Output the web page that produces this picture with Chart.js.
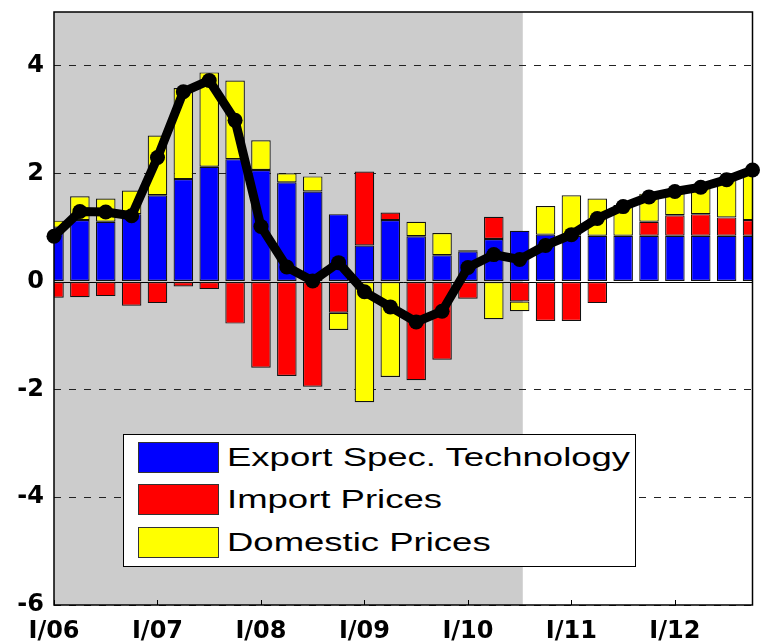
<!DOCTYPE html>
<html>
<head>
<meta charset="utf-8">
<script src="https://cdn.jsdelivr.net/npm/chart.js@4.4.1/dist/chart.umd.min.js"></script>
<style>
  html, body { margin: 0; padding: 0; background: #fff; }
  #wrap { position: relative; width: 760px; height: 644px; }
  #legend {
    position: absolute; left: 123px; top: 434px; width: 513px; height: 133px;
    box-sizing: border-box; border: 1.5px solid #000; background: #fff;
  }
  .row { position: absolute; left: 13.5px; height: 31px; display: flex; align-items: center; }
  .sw { width: 81px; height: 31px; box-sizing: border-box; border: 1px solid #333; }
  .txt {
    margin-left: 8px; font: 25px "Liberation Sans", Arial, sans-serif; color: #000;
    transform: scaleX(1.46); transform-origin: left center; white-space: nowrap;
  }
</style>
</head>
<body>
<div id="wrap">
  <canvas id="chart" width="760" height="644"></canvas>
  <div id="legend"></div>
</div>
<script>
// Quarterly decomposition, I/06 .. IV/12
const QUARTERS = [
  'I/06', 'II/06', 'III/06', 'IV/06', 'I/07', 'II/07', 'III/07', 'IV/07',
  'I/08', 'II/08', 'III/08', 'IV/08', 'I/09', 'II/09', 'III/09', 'IV/09',
  'I/10', 'II/10', 'III/10', 'IV/10', 'I/11', 'II/11', 'III/11', 'IV/11',
  'I/12', 'II/12', 'III/12', 'IV/12'
];
const EXPORT_TECH = [
  1.00, 1.14, 1.11, 1.25, 1.60, 1.90, 2.13, 2.27,
  2.07, 1.84, 1.67, 1.25, 0.67, 1.14, 0.84, 0.49,
  0.56, 0.79, 0.94, 0.87, 0.85, 0.85, 0.85, 0.85,
  0.85, 0.85, 0.85, 0.85
];
const IMPORT_PRICES = [
  -0.30, -0.29, -0.27, -0.45, -0.40, -0.09, -0.14, -0.78,
  -1.60, -1.75, -1.95, -0.58, 1.37, 0.14, -1.83, -1.45,
  -0.32, 0.41, -0.37, -0.73, -0.73, -0.40, -0.03, 0.26,
  0.38, 0.40, 0.34, 0.29
];
const DOMESTIC_PRICES = [
  0.13, 0.44, 0.43, 0.44, 1.11, 1.69, 1.75, 1.46,
  0.55, 0.17, 0.28, -0.32, -2.24, -1.77, 0.27, 0.41,
  0.02, -0.70, -0.18, 0.53, 0.75, 0.69, 0.57, 0.52,
  0.45, 0.53, 0.71, 0.86
];
const TOTAL = [
  0.84, 1.30, 1.29, 1.22, 2.30, 3.52, 3.73, 2.99,
  1.02, 0.27, 0.01, 0.35, -0.19, -0.47, -0.75, -0.55,
  0.26, 0.50, 0.41, 0.67, 0.87, 1.17, 1.39, 1.57,
  1.67, 1.75, 1.89, 2.07
];
const Y_TICKS = [-6, -4, -2, 0, 2, 4];
const SHADE_END = 18.12;   // end of the shaded (history) period, in quarters

const SERIES = [
  { label: 'Export Spec. Technology', data: EXPORT_TECH, color: '#0000ff' },
  { label: 'Import Prices', data: IMPORT_PRICES, color: '#ff0000' },
  { label: 'Domestic Prices', data: DOMESTIC_PRICES, color: '#ffff00' }
];

const tickFont = { family: '"DejaVu Sans", sans-serif', weight: 'bold', size: 24 };

// gray shading, zero line, frame and inner year ticks
const decor = {
  id: 'decor',
  beforeDraw(c) {
    const { ctx, chartArea: a, scales: { x } } = c;
    ctx.save();
    ctx.fillStyle = '#cccccc';
    ctx.fillRect(a.left, a.top, x.getPixelForValue(SHADE_END) - a.left, a.bottom - a.top);
    ctx.restore();
  },
  beforeDatasetsDraw(c) {
    const { ctx, chartArea: a, scales: { y } } = c;
    const y0 = Math.round(y.getPixelForValue(0)) + 0.5;
    ctx.save();
    ctx.strokeStyle = '#000';
    ctx.lineWidth = 1;
    ctx.beginPath();
    ctx.moveTo(a.left, y0);
    ctx.lineTo(a.right, y0);
    ctx.stroke();
    ctx.restore();
  },
  afterDraw(c) {
    const { ctx, chartArea: a, scales: { x } } = c;
    ctx.save();
    ctx.strokeStyle = '#000';
    ctx.lineWidth = 1.5;
    ctx.strokeRect(a.left, a.top, a.right - a.left, a.bottom - a.top);
    ctx.lineWidth = 1;
    ctx.beginPath();
    QUARTERS.forEach((q, i) => {
      if (!q.startsWith('I/')) return;
      const px = Math.round(x.getPixelForValue(i)) + 0.5;
      ctx.moveTo(px, a.bottom);
      ctx.lineTo(px, a.bottom - 5);
    });
    ctx.stroke();
    ctx.restore();
  }
};

const barDatasets = SERIES.map(s => ({
  label: s.label,
  data: s.data,
  backgroundColor: s.color,
  borderColor: '#111',
  borderWidth: 1.2,
  borderSkipped: false,
  stack: 'contrib',
  barPercentage: 0.755,
  categoryPercentage: 1,
  clip: 0,
  order: 1
}));

new Chart(document.getElementById('chart'), {
  type: 'bar',
  data: {
    labels: QUARTERS,
    datasets: [
      ...barDatasets,
      {
        type: 'line',
        label: 'Total',
        data: TOTAL,
        stack: 'total',
        borderColor: '#000',
        borderWidth: 9,
        pointRadius: 7.5,
        pointBackgroundColor: '#000',
        pointBorderWidth: 0,
        tension: 0,
        clip: 10,
        order: 0
      }
    ]
  },
  options: {
    responsive: false,
    animation: false,
    layout: { padding: { top: 12, right: 3, left: 0, bottom: 0 } },
    plugins: { legend: { display: false }, tooltip: { enabled: false } },
    scales: {
      x: {
        stacked: true,
        offset: false,
        grid: { display: false, drawTicks: false },
        border: { display: false },
        ticks: {
          autoSkip: false, maxRotation: 0, padding: 12, color: '#000', font: tickFont,
          callback: (v, i) => QUARTERS[i].startsWith('I/') ? QUARTERS[i] : ''
        },
        afterFit(s) { s.height = 39; s.paddingLeft = 0; s.paddingRight = 0; }
      },
      y: {
        stacked: true,
        min: -6,
        max: 5,
        afterBuildTicks(s) { s.ticks = Y_TICKS.map(v => ({ value: v })); },
        grid: {
          drawTicks: false,
          lineWidth: 1,
          color: c => (c.tick && c.tick.value === 0) ? 'rgba(0,0,0,0)' : '#222'
        },
        border: { display: false, dash: [7, 8] },
        ticks: { padding: 10, color: '#000', font: tickFont },
        afterFit(s) { s.width = 54; s.paddingTop = 0; s.paddingBottom = 0; }
      }
    }
  },
  plugins: [decor]
});

// legend box
const legend = document.getElementById('legend');
const ROW_TOPS = [6.5, 48.5, 91.5];
SERIES.forEach((s, i) => {
  const row = document.createElement('div');
  row.className = 'row';
  row.style.top = ROW_TOPS[i] + 'px';
  row.innerHTML = '<div class="sw" style="background:' + s.color + '"></div><span class="txt">' + s.label + '</span>';
  legend.appendChild(row);
});
</script>
</body>
</html>
